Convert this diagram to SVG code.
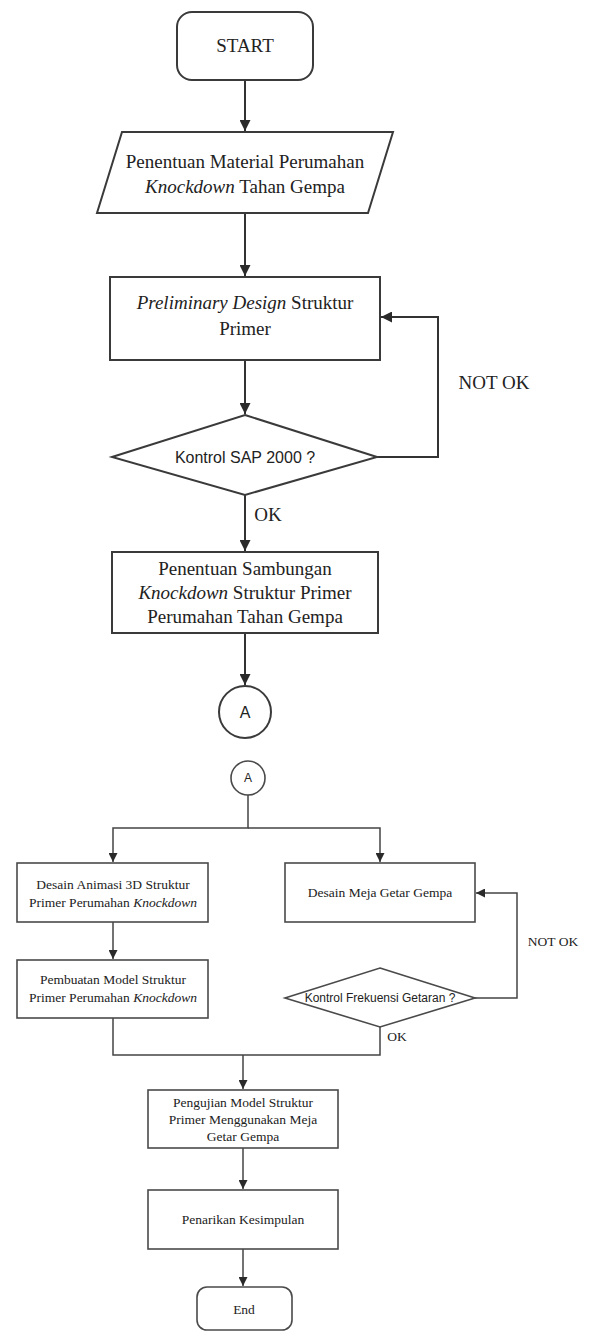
<svg xmlns="http://www.w3.org/2000/svg" width="590" height="1332" viewBox="0 0 590 1332">
<defs>
<marker id="ah" viewBox="0 0 10 10" refX="10" refY="5" markerWidth="5.5" markerHeight="5.5" orient="auto" markerUnits="strokeWidth"><path d="M0,0 L10,5 L0,10 Z" fill="#2a2a2a"/></marker>
<marker id="ahs" viewBox="0 0 10 10" refX="10" refY="5" markerWidth="6" markerHeight="6" orient="auto" markerUnits="strokeWidth"><path d="M0,0 L10,5 L0,10 Z" fill="#2a2a2a"/></marker>
</defs>
<style>
.n{fill:#fff;stroke:#3a3a3a;stroke-width:2}
.ns{fill:#fff;stroke:#4a4a4a;stroke-width:1.6}
.c{fill:none;stroke:#333;stroke-width:2}
.cs{fill:none;stroke:#444;stroke-width:1.5}
.t{font-family:"Liberation Serif","Times New Roman",serif;font-size:19px;fill:#222;text-anchor:middle}
.ts{font-family:"Liberation Serif","Times New Roman",serif;font-size:13.5px;fill:#222;text-anchor:middle}
.s{font-family:"Liberation Sans",Arial,sans-serif;font-size:16px;fill:#222;text-anchor:middle}
.ss{font-family:"Liberation Sans",Arial,sans-serif;font-size:12px;fill:#222;text-anchor:middle}
.i{font-style:italic}
</style>
<rect width="590" height="1332" fill="#fff"/>
<g id="connectors">
<path class="c" d="M245,80 V131" marker-end="url(#ah)"/>
<path class="c" d="M245,213 V276" marker-end="url(#ah)"/>
<path class="c" d="M245,360 V414" marker-end="url(#ah)"/>
<path class="c" d="M377,457 H438 V317 H381" marker-end="url(#ah)"/>
<path class="c" d="M245,495 V551" marker-end="url(#ah)"/>
<path class="c" d="M245,633 V685" marker-end="url(#ah)"/>
<path class="cs" d="M248,795 V828 H113 V862" marker-end="url(#ahs)"/>
<path class="cs" d="M248,828 H380 V862" marker-end="url(#ahs)"/>
<path class="cs" d="M113,922 V959" marker-end="url(#ahs)"/>
<path class="cs" d="M475,998 H517 V893 H476" marker-end="url(#ahs)"/>
<path class="cs" d="M113,1018 V1055 H380 V1027"/>
<path class="cs" d="M243,1055 V1089" marker-end="url(#ahs)"/>
<path class="cs" d="M243,1148 V1189" marker-end="url(#ahs)"/>
<path class="cs" d="M243,1249 V1286" marker-end="url(#ahs)"/>
<text class="t" x="494" y="389">NOT OK</text>
<text class="t" x="268" y="521">OK</text>
<text class="ts" x="553" y="946">NOT OK</text>
<text class="ts" x="397" y="1041">OK</text>
</g>
<g id="start">
<rect class="n" x="177" y="12" width="136" height="68" rx="15"/>
<text class="t" x="245" y="52">START</text>
</g>
<g id="material">
<path class="n" d="M122,132 H393 L368,213 H97 Z"/>
<text class="t" x="245" y="168">Penentuan Material Perumahan</text>
<text class="t" x="245" y="193"><tspan class="i">Knockdown</tspan> Tahan Gempa</text>
</g>
<g id="preliminary">
<rect class="n" x="110" y="277" width="270" height="83"/>
<text class="t" x="245" y="309"><tspan class="i">Preliminary Design</tspan> Struktur</text>
<text class="t" x="245" y="335">Primer</text>
</g>
<g id="kontrol-sap">
<path class="n" d="M245,415 L377,457 L245,495 L112,457 Z"/>
<text class="s" x="245" y="463">Kontrol SAP 2000 ?</text>
</g>
<g id="sambungan">
<rect class="n" x="112" y="552" width="266" height="81"/>
<text class="t" x="245" y="575">Penentuan Sambungan</text>
<text class="t" x="245" y="599"><tspan class="i">Knockdown</tspan> Struktur Primer</text>
<text class="t" x="245" y="623">Perumahan Tahan Gempa</text>
</g>
<g id="conn-a1">
<circle class="n" cx="245" cy="712" r="26"/>
<text class="s" x="245" y="718">A</text>
</g>
<g id="conn-a2">
<circle class="ns" cx="248" cy="778" r="17"/>
<text class="ss" x="248" y="782">A</text>
</g>
<g id="animasi">
<rect class="ns" x="17" y="863" width="191" height="59"/>
<text class="ts" x="113" y="889">Desain Animasi 3D Struktur</text>
<text class="ts" x="113" y="907">Primer Perumahan <tspan class="i">Knockdown</tspan></text>
</g>
<g id="pembuatan">
<rect class="ns" x="17" y="960" width="191" height="58"/>
<text class="ts" x="113" y="984">Pembuatan Model Struktur</text>
<text class="ts" x="113" y="1002">Primer Perumahan <tspan class="i">Knockdown</tspan></text>
</g>
<g id="meja">
<rect class="ns" x="285" y="863" width="190" height="59"/>
<text class="ts" x="380" y="897">Desain Meja Getar Gempa</text>
</g>
<g id="kontrol-frekuensi">
<path class="ns" d="M380,968 L475,998 L380,1027 L285,998 Z"/>
<text class="ss" x="380" y="1002">Kontrol Frekuensi Getaran ?</text>
</g>
<g id="pengujian">
<rect class="ns" x="148" y="1090" width="190" height="58"/>
<text class="ts" x="243" y="1107">Pengujian Model Struktur</text>
<text class="ts" x="243" y="1124">Primer Menggunakan Meja</text>
<text class="ts" x="243" y="1141">Getar Gempa</text>
</g>
<g id="kesimpulan">
<rect class="ns" x="148" y="1190" width="190" height="59"/>
<text class="ts" x="243" y="1224">Penarikan Kesimpulan</text>
</g>
<g id="end">
<rect class="ns" x="197" y="1287" width="95" height="43" rx="10"/>
<text class="ts" x="244" y="1314">End</text>
</g>
</svg>
